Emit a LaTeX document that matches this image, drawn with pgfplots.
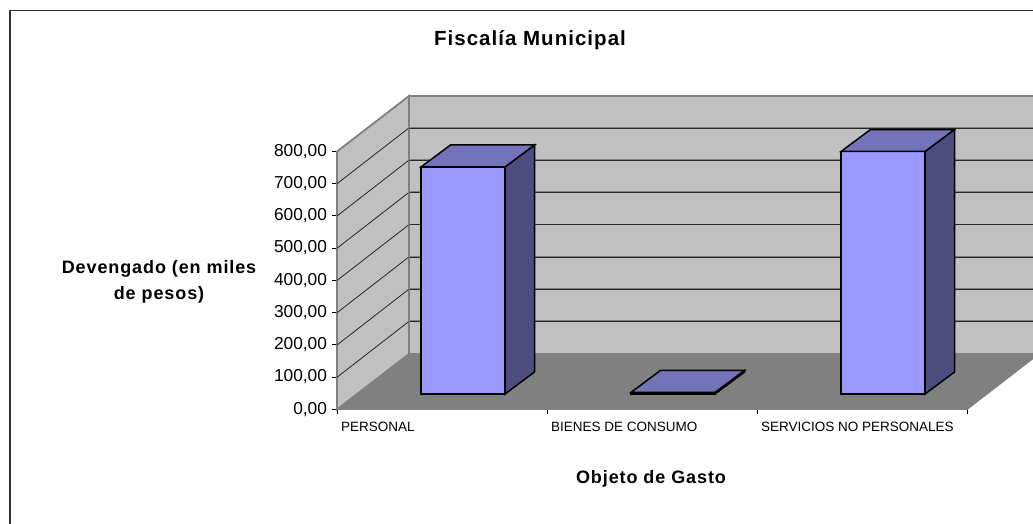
\documentclass[border=0pt]{standalone}
\usepackage{pgfplots}
\pgfplotsset{compat=1.18}
\usepackage{fontspec}
\setmainfont{Liberation Sans}
\newfontfamily\lsb[LetterSpace=5]{Liberation Sans}
\definecolor{wall}{HTML}{C0C0C0}
\definecolor{flr}{HTML}{808080}
\definecolor{fr}{HTML}{9999FF}
\definecolor{tp}{HTML}{7373B9}
\definecolor{sd}{HTML}{4D4D80}
\begin{document}
\begin{tikzpicture}[x=1pt,y=1pt]
\clip (0,0) rectangle (1033,524);
\path[use as bounding box] (0,0) rectangle (1033,524);
\fill[white] (0,0) rectangle (1033,524);
\draw[black!80,line width=1.6pt] (9.8,-5) -- (9.8,513.5) -- (1040,513.5);
\begin{axis}[
  at={(337pt,114.5pt)},anchor=south west,
  scale only axis,width=630pt,height=258pt,
  xmin=337,xmax=967,ymin=0,ymax=800,clip=false,
  axis x line=bottom,axis y line=left,
  axis line style={-,black,line width=1pt},
  tick style={black,line width=1pt},
  tick align=outside,major tick length=5pt,
  xtick={337,547,757,967},
  xticklabels={PERSONAL,BIENES DE CONSUMO,SERVICIOS NO PERSONALES,{}},
  xticklabel style={anchor=north west,font=\fontsize{13.5}{15}\selectfont,xshift=0.5pt,yshift=-4pt},
  ytick={0,100,...,800},
  yticklabel style={font=\fontsize{17.3}{20}\selectfont,xshift=-1.5pt,yshift=0.3pt},
  /pgf/number format/.cd,fixed,fixed zerofill,precision=2,use comma,1000 sep={},assume math mode=true,
  /pgfplots/.cd,
  title={\lsb\bfseries Fiscalía Municipal},
  title style={at={(rel axis cs:0.3063,1.409)},anchor=center,font=\fontsize{20.5}{22}\selectfont},
  xlabel={\lsb\bfseries Objeto de Gasto},
  xlabel style={at={(rel axis cs:0.4984,-0.27)},anchor=center,font=\fontsize{18}{20}\selectfont},
  ylabel={\lsb\bfseries Devengado (en miles\\\lsb\bfseries de pesos)},
  ylabel style={at={(rel axis cs:-0.2825,0.494)},anchor=center,rotate=-90,align=center,font=\fontsize{18}{26}\selectfont},
]
% walls and floor
\addplot[fill=wall,draw=flr,line width=1.5pt] coordinates {(409,172.1)(1039,172.1)(1039,972.1)(409,972.1)} --cycle;
\addplot[fill=wall,draw=flr,line width=1.8pt] coordinates {(337,0)(409,172.1)(409,972.1)(337,800)} --cycle;
\addplot[fill=flr,draw=flr,line width=1pt] coordinates {(337,0)(967,0)(1039,172.1)(409,172.1)} --cycle;
% gridlines
\foreach \v/\w/\u in {100/272.1/275.1,200/372.1/375.1,300/472.1/475.1,400/572.1/575.1,500/672.1/675.1,600/772.1/775.1,700/872.1/875.1}{
  \edef\temp{\noexpand\addplot[black!85,line width=0.8pt] coordinates {(337,\v)(408.5,\w)};
             \noexpand\addplot[flr,line width=1pt] coordinates {(410,\u)(1039,\u)};
             \noexpand\addplot[black!85,line width=1pt] coordinates {(410,\w)(1039,\w)};}
  \temp
}
% PERSONAL = 704
\addplot[fill=fr,draw=black,line width=1.5pt] coordinates {(421,48)(505,48)(505,752)(421,752)} --cycle;
\addplot[fill=sd,draw=black,line width=1.5pt] coordinates {(505,48)(534.5,116.2)(534.5,820.2)(505,752)} --cycle;
\addplot[fill=tp,draw=black,line width=1.5pt] coordinates {(421,752)(505,752)(534.5,820.2)(450.5,820.2)} --cycle;
% BIENES DE CONSUMO = 5
\addplot[fill=fr,draw=black,line width=1.5pt] coordinates {(631,48)(715,48)(715,53)(631,53)} --cycle;
\addplot[fill=sd,draw=black,line width=1.5pt] coordinates {(715,48)(744.5,116.2)(744.5,121.2)(715,53)} --cycle;
\addplot[fill=tp,draw=black,line width=1.5pt] coordinates {(631,53)(715,53)(744.5,121.2)(660.5,121.2)} --cycle;
% SERVICIOS NO PERSONALES = 752
\addplot[fill=fr,draw=black,line width=1.5pt] coordinates {(841,48)(925,48)(925,800)(841,800)} --cycle;
\addplot[fill=sd,draw=black,line width=1.5pt] coordinates {(925,48)(954.5,116.2)(954.5,868.2)(925,800)} --cycle;
\addplot[fill=tp,draw=black,line width=1.5pt] coordinates {(841,800)(925,800)(954.5,868.2)(870.5,868.2)} --cycle;
\end{axis}
\end{tikzpicture}
\end{document}
